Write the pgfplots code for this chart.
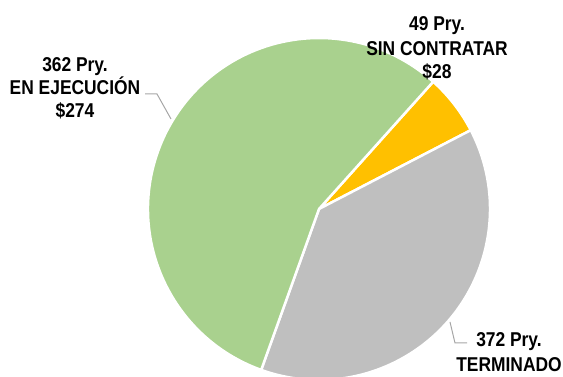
\documentclass[border=0pt]{standalone}
\usepackage{pgfplots}
\pgfplotsset{compat=1.18}
\usepackage{pgfplotstable}
\usepackage{fontspec}
\setmainfont{Liberation Sans}
\newfontfamily\lblfont{Liberation Sans Bold}[FakeStretch=0.87]

\definecolor{piegreen}{HTML}{A9D18E}
\definecolor{pieyellow}{HTML}{FFC000}
\definecolor{piegray}{HTML}{BFBFBF}
\definecolor{leader}{HTML}{A6A6A6}

% Amounts (millions) per project status
\pgfplotstableread{
status value
sincontratar 28
terminado 186
ejecucion 274
}\piedata

\pgfplotstablegetelem{0}{value}\of\piedata \let\vA\pgfplotsretval
\pgfplotstablegetelem{1}{value}\of\piedata \let\vB\pgfplotsretval
\pgfplotstablegetelem{2}{value}\of\piedata \let\vC\pgfplotsretval
\pgfmathsetmacro\tot{\vA+\vB+\vC}
\pgfmathsetmacro\aA{48.1}
\pgfmathsetmacro\aB{\aA-\vA/\tot*360}
\pgfmathsetmacro\aC{\aB-\vB/\tot*360}
\pgfmathsetmacro\aD{\aC-\vC/\tot*360}
\def\cx{319}\def\cy{168}\def\rad{171pt}

\tikzset{lbl/.style={font=\lblfont\fontsize{20}{24}\selectfont, anchor=base, inner sep=0pt}}

\begin{document}
\begin{tikzpicture}
\useasboundingbox (0,0) rectangle (563pt,377pt);
\clip (0,0) rectangle (563pt,377pt);
\begin{axis}[
  at={(0,0)}, anchor=south west,
  scale only axis, width=563pt, height=377pt,
  xmin=0, xmax=563, ymin=0, ymax=377,
  hide axis,
]
\filldraw[fill=pieyellow, draw=white, line width=2.5pt, line join=round]
  (axis cs:\cx,\cy) -- +(\aA:\rad) arc[start angle=\aA, end angle=\aB, radius=\rad] -- cycle;
\filldraw[fill=piegray, draw=white, line width=2.5pt, line join=round]
  (axis cs:\cx,\cy) -- +(\aB:\rad) arc[start angle=\aB, end angle=\aC, radius=\rad] -- cycle;
\filldraw[fill=piegreen, draw=white, line width=2.5pt, line join=round]
  (axis cs:\cx,\cy) -- +(\aC:\rad) arc[start angle=\aC, end angle=\aD, radius=\rad] -- cycle;

% leader lines
\draw[leader, line width=1pt] (axis cs:145,283) -- (axis cs:157,283) -- (axis cs:171,258);
\draw[leader, line width=1pt] (axis cs:450,55) -- (axis cs:455,34) -- (axis cs:467,34);

% labels
\node[lbl] at (axis cs:75,305) {362 Pry.};
\node[lbl] at (axis cs:75,282) {EN EJECUCIÓN};
\node[lbl] at (axis cs:75,259) {\$274};

\node[lbl] at (axis cs:437,346) {49 Pry.};
\node[lbl] at (axis cs:437,321) {SIN CONTRATAR};
\node[lbl] at (axis cs:437,298) {\$28};

\node[lbl] at (axis cs:509,30) {372 Pry.};
\node[lbl] at (axis cs:509,5) {TERMINADO};
\end{axis}
\end{tikzpicture}
\end{document}
